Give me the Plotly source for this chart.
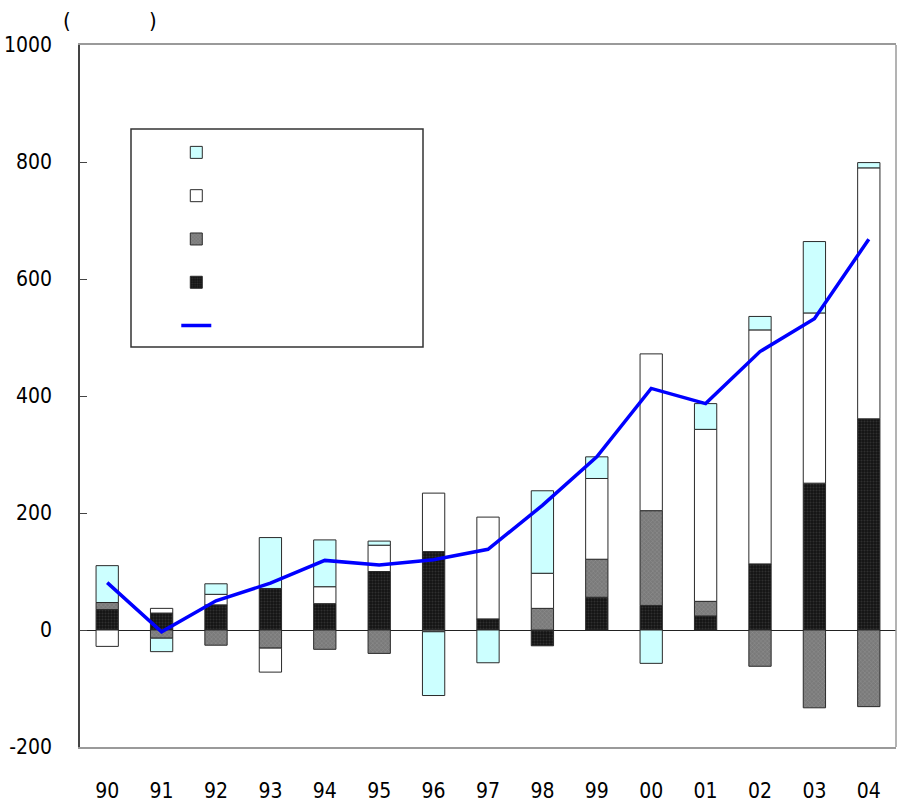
import plotly.graph_objects as go

# Fiscal years (two-digit)
years = ["90", "91", "92", "93", "94", "95", "96", "97", "98", "99",
         "00", "01", "02", "03", "04"]

# Stacked components (bottom to top)
comp_black = [35, 29, 43, 71, 45, 100, 134, 19, -27, 56, 42, 24, 113, 251, 361]
comp_gray = [12, -14, -26, -31, -33, -40, -3, 0, 37, 65, 162, 25, -62, -133, -131]
comp_white = [-28, 8, 18, -41, 29, 45, 100, 174, 60, 138, 268, 294, 400, 291, 429]
comp_cyan = [63, -23, 18, 87, 80, 7, -109, -56, 141, 37, -57, 44, 23, 122, 9]

# Overall total (line)
total = [81, -3, 50, 80, 119, 111, 120, 138, 213, 296, 413, 387, 476, 532, 668]

# Y axis ticks
y_ticks = [-200, 0, 200, 400, 600, 800, 1000]
y_tick_labels = ["-200", "0", "200", "400", "600", "800", "1000"]

FONT = "DejaVu Sans Condensed, Liberation Sans Narrow, Arial Narrow, sans-serif"
OUTLINE = dict(color="#2a2a2a", width=1)

fig = go.Figure()

fig.add_trace(go.Bar(
    x=years, y=comp_black, name=" ", legendrank=4,
    marker=dict(color="#141414", line=OUTLINE,
                pattern=dict(shape=".", bgcolor="#141414", fgcolor="#4a4a4a",
                             size=3, solidity=0.35)),
))
fig.add_trace(go.Bar(
    x=years, y=comp_gray, name=" ", legendrank=3,
    marker=dict(color="#7a7a7a", line=OUTLINE,
                pattern=dict(shape="x", bgcolor="#7a7a7a", fgcolor="#a8a8a8",
                             size=3, solidity=0.3)),
))
fig.add_trace(go.Bar(
    x=years, y=comp_white, name=" ", legendrank=2,
    marker=dict(color="#ffffff", line=OUTLINE),
))
fig.add_trace(go.Bar(
    x=years, y=comp_cyan, name=" ", legendrank=1,
    marker=dict(color="#ccffff", line=OUTLINE),
))
fig.add_trace(go.Scatter(
    x=years, y=total, name=" ", legendrank=5, mode="lines",
    line=dict(color="#0000ff", width=3.5),
))

fig.update_layout(
    width=899, height=805,
    margin=dict(l=80, r=3, t=45, b=58, autoexpand=False),
    paper_bgcolor="white", plot_bgcolor="white",
    barmode="relative", bargap=0.59,
    font=dict(family=FONT, size=21, color="black"),
    showlegend=True,
    legend=dict(
        x=0.118, y=0.885, xanchor="left", yanchor="top",
        traceorder="normal", bgcolor="rgba(0,0,0,0)", borderwidth=0,
        font=dict(size=31), itemwidth=30,
    ),
)

fig.update_xaxes(
    type="category", range=[-0.5, len(years) - 0.5], automargin=False,
    showline=True, linecolor="#9a9a9a", linewidth=1.5, mirror=True,
    ticks="", showgrid=False, ticklabelstandoff=24,
    tickfont=dict(family=FONT, size=21),
)
fig.update_yaxes(
    range=[-200, 1000], tickvals=y_ticks, ticktext=y_tick_labels,
    automargin=False,
    showline=True, linecolor="#444444", linewidth=1.5,
    ticks="inside", ticklen=7, tickcolor="#444444",
    showgrid=False, zeroline=True, zerolinecolor="#222222", zerolinewidth=1,
    ticklabelstandoff=22, tickfont=dict(family=FONT, size=21),
)

# Right edge of the frame and the legend box
fig.add_shape(type="line", xref="paper", yref="paper", x0=1, x1=1, y0=0, y1=1,
              line=dict(color="#9a9a9a", width=1.5))
fig.add_shape(type="rect", xref="paper", yref="paper",
              x0=(131 - 80) / 816, x1=(423 - 80) / 816,
              y0=(747 - 347) / 702, y1=(747 - 129) / 702,
              line=dict(color="#333333", width=1.5), fillcolor="rgba(0,0,0,0)",
              layer="below")

# Unit label brackets above the y axis
fig.add_annotation(text="(", xref="paper", yref="paper",
                   x=(67 - 80) / 816, y=(747 - 21) / 702,
                   xanchor="center", yanchor="middle",
                   showarrow=False, font=dict(family=FONT, size=22))
fig.add_annotation(text=")", xref="paper", yref="paper",
                   x=(153 - 80) / 816, y=(747 - 21) / 702,
                   xanchor="center", yanchor="middle",
                   showarrow=False, font=dict(family=FONT, size=22))

fig.write_html("out.html")
